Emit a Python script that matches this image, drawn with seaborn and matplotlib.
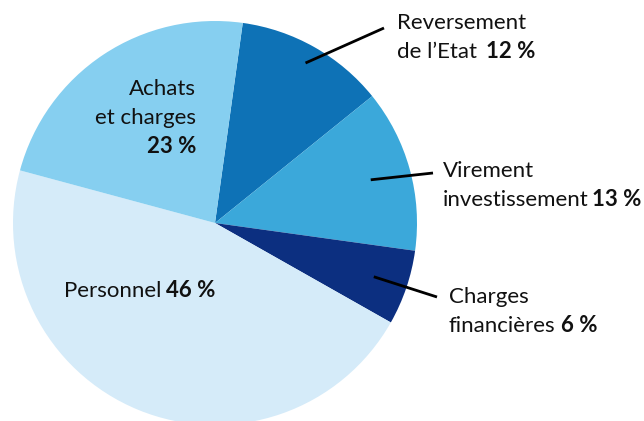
import numpy as np
import matplotlib
matplotlib.use('Agg')
import matplotlib.pyplot as plt
import seaborn as sns

# %% Data
# ----------------------------------------------------------------------------
labels = ['Reversement\nde l\u2019Etat', 'Virement\ninvestissement', 'Charges\nfinancières',
          'Personnel', 'Achats\net charges']
shares = [12, 13, 6, 46, 23]
pct_labels = ['12 %', '13 %', '6 %', '46 %', '23 %']
colors = ['#0E72B6', '#3BA8DA', '#0C2F80', '#D5EBF9', '#86CFF0']

# %% Style
# ----------------------------------------------------------------------------
sns.set_theme(style='white')
plt.rcParams['font.family'] = ['Lato', 'DejaVu Sans']
fs = 16

W, H = 644, 421
fig = plt.figure(figsize=(W / 100, H / 100), dpi=100)
ax = fig.add_axes([0, 0, 1, 1])

# pie geometry in pixel units (y up)
cx, cy, rad = 215, H - 223, 202
start = 82.1

ax.pie(shares, colors=colors, startangle=start, counterclock=False,
       center=(cx, cy), radius=rad, wedgeprops=dict(linewidth=0))
ax.set_xlim(0, W)
ax.set_ylim(0, H)
ax.set_aspect('equal')
ax.axis('off')

# wedge mid angles for leader lines
cum = np.cumsum([0] + shares)
mid = [start - (cum[i] + shares[i] / 2) / sum(shares) * 360 for i in range(len(shares))]


def leader(i, frac, x2, y2):
    a = np.deg2rad(mid[i])
    x1 = cx + frac * rad * np.cos(a)
    y1 = cy + frac * rad * np.sin(a)
    ax.plot([x1, x2], [y1, H - y2], color='black', lw=2, solid_capstyle='butt')


def label(x, y, text, ha='left'):
    # multi-line label, returns the last line so the bold % can follow it
    lh = 28.5
    t = None
    for k, ln in enumerate(text.split('\n')):
        t = ax.text(x, H - y - k * lh, ln, ha=ha, va='baseline', fontsize=fs, color='#111111')
    return t


def pct_after(t, pct, gap):
    ax.annotate(pct, xy=(1, 0), xycoords=t, xytext=(gap, 0), textcoords='offset pixels',
                va='bottom', fontsize=fs, fontweight='bold', color='#111111')


# Reversement de l'Etat
leader(0, 0.91, 384, 28)
pct_after(label(397, 29, labels[0]), pct_labels[0], 9)

# Virement investissement
leader(1, 0.80, 433, 173)
pct_after(label(443, 177, labels[1]), pct_labels[1], 3)

# Charges financieres
leader(2, 0.83, 437, 297)
pct_after(label(449, 303, labels[2]), pct_labels[2], 5)

# Personnel
pct_after(label(64, 297, labels[3]), pct_labels[3], 5)

# Achats et charges
label(196, 95, labels[4], ha='right')
ax.text(196, H - 153, pct_labels[4], ha='right', va='baseline', fontsize=fs,
        fontweight='bold', color='#111111')

fig.savefig('out.png', dpi=100)
